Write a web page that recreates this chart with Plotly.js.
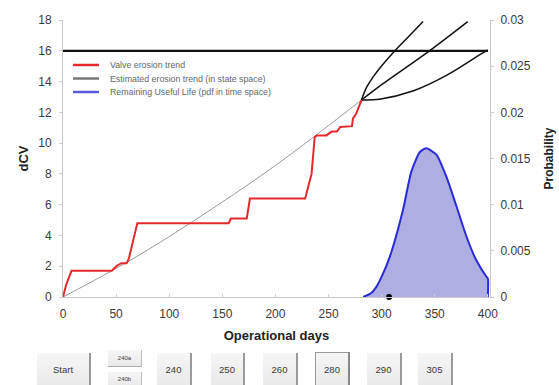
<!DOCTYPE html>
<html>
<head>
<meta charset="utf-8">
<script src="https://cdn.plot.ly/plotly-3.0.1.min.js"></script>
<style>
  html, body { margin:0; padding:0; background:#fff; }
  #wrap { position:relative; width:559px; height:385px; overflow:hidden; }
  #chart { position:absolute; left:0; top:0; width:559px; height:385px; }
  .btn { position:absolute; box-sizing:border-box; background:linear-gradient(#f6f6f6,#e9e9e9);
         border-right:2px solid #9a9a9a; border-bottom:1px solid #d0d0d0;
         font-family:"Liberation Sans", Arial, sans-serif; font-size:9.5px; color:#3a3a3a;
         display:flex; align-items:center; justify-content:center; }
  .btn.small { font-size:6px; border-right:1px solid #bbb; border-bottom:1px solid #aaa; }
  .btn.sel { border:1px solid #9a9a9a; border-right:2px solid #888; }
</style>
</head>
<body>
<div id="wrap">
  <div id="chart"></div>
</div>
<script>
// ---- data ----
const redDays = [0, 3, 8, 46, 48, 51, 55, 60, 62, 65, 68, 70, 156, 158, 173, 176, 228, 231, 234, 237, 239, 248, 253, 258, 261, 272, 273, 276, 281];
const redDcv  = [0, 0.8, 1.7, 1.7, 1.85, 2.05, 2.2, 2.2, 2.5, 3.3, 4.2, 4.8, 4.8, 5.1, 5.1, 6.4, 6.4, 7.2, 8.0, 10.4, 10.5, 10.5, 10.75, 10.75, 11.05, 11.1, 11.6, 11.9, 12.8];

const estDays = [0, 60, 122, 200, 281];
const estDcv  = [0, 2.25, 4.9, 8.55, 12.8];

const upperDays = [281, 286, 292, 298, 312.5, 325, 339];
const upperDcv  = [12.8, 13.65, 14.3, 14.85, 16.0, 16.9, 17.9];
const midDays   = [281, 300, 345, 381];
const midDcv    = [12.8, 13.8, 16.0, 17.9];
const lowerDays = [281, 298, 330, 361, 396, 400];
const lowerDcv  = [12.8, 12.85, 13.4, 14.4, 15.9, 16.05];

const thresholdDays = [0, 400];
const thresholdDcv  = [16, 16];

const pdfDays = [282.6, 290, 295, 300, 307.8, 320, 328, 336, 342, 351.7, 361, 370.5, 380, 389, 398.6, 400, 400];
const pdfProb = [0, 0.0004, 0.0011, 0.0022, 0.0044, 0.0094, 0.0136, 0.0157, 0.0161, 0.0154, 0.013, 0.0098, 0.0065, 0.004, 0.0022, 0.002, 0];

const markerDay = [307];
const markerProb = [0];

const legendNames = ["Valve erosion trend", "Estimated erosion trend (in state space)", "Remaining Useful Life (pdf in time space)"];
const legendColors = ["#e5282c", "#777777", "#5a5ae0"];
const buttonLabels = ["Start", "240a", "240b", "240", "250", "260", "280", "290", "305"];

// ---- chart ----
const FONT = '"Liberation Sans", Arial, sans-serif';
const traces = [
  { x: thresholdDays, y: thresholdDcv, mode: 'lines', line: {color: '#111', width: 2.2}, hoverinfo: 'skip' },
  { x: pdfDays, y: pdfProb, yaxis: 'y2', mode: 'lines', fill: 'tozeroy', fillcolor: 'rgba(140,140,215,0.7)',
    line: {color: '#2a2ad6', width: 2, shape: 'spline', smoothing: 0.6} },
  { x: estDays, y: estDcv, mode: 'lines', line: {color: '#9a9a9a', width: 1, shape: 'spline'} },
  { x: upperDays, y: upperDcv, mode: 'lines', line: {color: '#111', width: 1.5, shape: 'spline'} },
  { x: midDays, y: midDcv, mode: 'lines', line: {color: '#111', width: 1.5, shape: 'spline'} },
  { x: lowerDays, y: lowerDcv, mode: 'lines', line: {color: '#111', width: 1.5, shape: 'spline'} },
  { x: redDays, y: redDcv, mode: 'lines', line: {color: '#e5282c', width: 2} },
  { x: markerDay, y: markerProb, yaxis: 'y2', mode: 'markers', marker: {color: '#000', size: 6}, cliponaxis: false }
];

// compact legend built from shapes + annotations (Plotly's legend rows are too tall)
const legRowY = [65, 78.5, 92];
const shapes = [], annotations = [];
legendNames.forEach((nm, i) => {
  shapes.push({type: 'line', xref: 'paper', yref: 'paper', layer: 'above',
    x0: (73 - 63) / 427, x1: (99 - 63) / 427,
    y0: (297 - legRowY[i]) / 277, y1: (297 - legRowY[i]) / 277,
    line: {color: legendColors[i], width: 2.5}});
  annotations.push({xref: 'paper', yref: 'paper', x: (108 - 63) / 427, y: (297 - legRowY[i]) / 277,
    xanchor: 'left', yanchor: 'middle', showarrow: false, text: nm,
    font: {size: 8.8, color: '#666', family: FONT}});
});

const layout = {
  width: 559, height: 385,
  margin: {l: 63, r: 69, t: 20, b: 88},
  paper_bgcolor: '#fff', plot_bgcolor: '#fff',
  font: {family: FONT, color: '#333'},
  showlegend: false,
  shapes: shapes, annotations: annotations,
  xaxis: {range: [0, 402], dtick: 50, tick0: 0, showgrid: false, zeroline: false,
          showline: true, linecolor: '#c8c8c8', linewidth: 1, ticks: 'inside', ticklen: 3, tickcolor: '#cfcfcf',
          ticklabelstandoff: 6,
          tickfont: {size: 12, color: '#3a3a3a', family: FONT},
          title: {text: 'Operational days', font: {size: 13, color: '#222', family: FONT, weight: 'bold'}, standoff: 10}},
  yaxis: {range: [0, 18], dtick: 2, showgrid: false, zeroline: false,
          showline: true, linecolor: '#c8c8c8', linewidth: 1, ticks: 'outside', ticklen: 3, tickcolor: '#cfcfcf',
          ticklabelstandoff: 5,
          tickfont: {size: 12, color: '#3a3a3a', family: FONT},
          title: {text: 'dCV', font: {size: 13, color: '#222', family: FONT, weight: 'bold'}, standoff: 6}},
  yaxis2: {range: [0, 0.03], dtick: 0.005, overlaying: 'y', side: 'right', showgrid: false, zeroline: false,
           showline: true, linecolor: '#c8c8c8', linewidth: 1, ticks: 'outside', ticklen: 3, tickcolor: '#cfcfcf',
           ticklabelstandoff: 4,
           tickfont: {size: 12, color: '#3a3a3a', family: FONT},
           title: {text: 'Probability', font: {size: 12, color: '#222', family: FONT, weight: 'bold'}, standoff: 14}}
};

Plotly.newPlot('chart', traces, layout, {displayModeBar: false, staticPlot: true});

// ---- buttons below the chart ----
const btnBoxes = [
  [37, 353, 54, 34, ''], [108, 350, 34, 17, 'small'], [108, 372, 34, 15, 'small'],
  [157, 353, 35, 34, ''], [211, 353, 34, 34, ''], [263, 353, 35, 34, ''],
  [315, 352, 35, 35, 'sel'], [367, 353, 35, 34, ''], [418, 353, 35, 34, '']
];
const wrap = document.getElementById('wrap');
buttonLabels.forEach((lab, i) => {
  const b = btnBoxes[i];
  const d = document.createElement('div');
  d.className = 'btn ' + b[4];
  d.style.left = b[0] + 'px'; d.style.top = b[1] + 'px';
  d.style.width = b[2] + 'px'; d.style.height = b[3] + 'px';
  d.textContent = lab;
  wrap.appendChild(d);
});
</script>
</body>
</html>
